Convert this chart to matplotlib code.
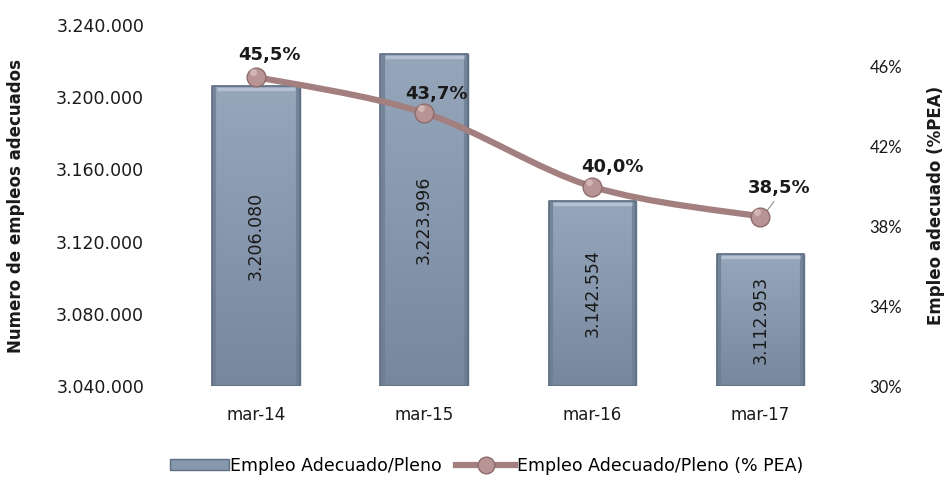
import numpy as np
import matplotlib
matplotlib.use("Agg")
import matplotlib.pyplot as plt
from matplotlib.path import Path
from matplotlib.patches import PathPatch, Patch
from matplotlib.lines import Line2D
from matplotlib.colors import LinearSegmentedColormap
from matplotlib.ticker import FuncFormatter

# Data
categories = ["mar-14", "mar-15", "mar-16", "mar-17"]
empleo_adecuado = [3206080, 3223996, 3142554, 3112953]
empleo_pct = [45.5, 43.7, 40.0, 38.5]
bar_labels = ["3.206.080", "3.223.996", "3.142.554", "3.112.953"]
pct_labels = ["45,5%", "43,7%", "40,0%", "38,5%"]
left_ticks = [3040000, 3080000, 3120000, 3160000, 3200000, 3240000]
right_ticks = [30, 34, 38, 42, 46]

def thousands(v, _=None):
    return f"{int(v):,}".replace(",", ".")

fig = plt.figure(figsize=(9.5, 4.82), dpi=100)
ax = fig.add_axes([0.181, 0.199, 0.708, 0.749])
ax2 = ax.twinx()

x = np.arange(len(categories))
bars = ax.bar(x, empleo_adecuado, width=0.52, color="#8797ad",
              edgecolor="#5f6e82", linewidth=1.0, zorder=2)

# vertical gradient fill for each bar, clipped to the bar shape
grad = LinearSegmentedColormap.from_list("barg", ["#77889e", "#8797ad", "#96a6bb"])
gimg = np.linspace(0, 1, 256).reshape(-1, 1)
for b in bars:
    bx, by, bw, bh = b.get_x(), b.get_y(), b.get_width(), b.get_height()
    y0 = left_ticks[0]
    im = ax.imshow(gimg, extent=(bx, bx + bw, y0, by + bh), origin="lower",
                   cmap=grad, aspect="auto", zorder=2.1, interpolation="bicubic")
    im.set_clip_path(b)
    # darker side bands and light bevel along the top
    for sx in (bx + bw * 0.025, bx + bw * 0.975):
        ax.plot([sx, sx], [y0, by + bh], color="#6d7d92", lw=3,
                zorder=2.2, solid_capstyle="butt", alpha=0.8)
    ax.plot([bx + bw * 0.05, bx + bw * 0.95], [by + bh - 1700, by + bh - 1700],
            color="#b4c1d2", lw=2.4, zorder=2.2, solid_capstyle="butt")
    ax.plot([bx, bx + bw, bx + bw, bx, bx], [y0, y0, by + bh, by + bh, y0],
            color="#5f6e82", lw=1.2, zorder=2.3)

for xi, v, lab in zip(x, empleo_adecuado, bar_labels):
    ax.text(xi, (left_ticks[0] + v) / 2, lab, rotation=90, ha="center",
            va="center", fontsize=12.5, color="#1a1a1a", zorder=3,
            family="DejaVu Sans")

ax.set_ylim(left_ticks[0], left_ticks[-1])
ax.set_xlim(-0.5, len(categories) - 0.5)
ax.set_yticks(left_ticks)
ax.yaxis.set_major_formatter(FuncFormatter(thousands))
ax.set_xticks(x)
ax.set_xticklabels(categories)
ax.tick_params(axis="both", length=0, colors="#1a1a1a")
ax.tick_params(axis="y", labelsize=12.5, pad=20)
ax.tick_params(axis="x", labelsize=12, pad=14)
for lab in ax.get_yticklabels() + ax.get_xticklabels():
    lab.set_family("DejaVu Sans")
ax.set_ylabel("Numero de empleos adecuados", fontsize=12, fontweight="bold",
              labelpad=22, color="#1a1a1a")

# smoothed percentage line (Catmull-Rom segments as cubic Bezier)
pts = np.column_stack([x, empleo_pct]).astype(float)
ext = np.vstack([pts[0], pts, pts[-1]])
verts = [tuple(pts[0])]
codes = [Path.MOVETO]
for i in range(1, len(ext) - 2):
    p0, p1, p2, p3 = ext[i - 1], ext[i], ext[i + 1], ext[i + 2]
    c1 = p1 + (p2 - p0) / 6.0
    c2 = p2 - (p3 - p1) / 6.0
    verts += [tuple(c1), tuple(c2), tuple(p2)]
    codes += [Path.CURVE4] * 3
ax2.add_patch(PathPatch(Path(verts, codes), facecolor="none",
                        edgecolor="#a47f7f", lw=4.5, zorder=4,
                        capstyle="round"))
ax2.plot(x, empleo_pct, linestyle="none", marker="o", markersize=13.5,
         markerfacecolor="#b89494", markeredgecolor="#8e6c6c",
         markeredgewidth=1.0, zorder=5)
ax2.plot(x - 0.02, np.array(empleo_pct) + 0.25, linestyle="none", marker="o",
         markersize=5, markerfacecolor="#dcc4c4", markeredgecolor="none",
         alpha=0.7, zorder=6)

label_offsets = [(0.08, 1.1), (0.07, 0.95), (0.12, 1.0), (0.11, 1.45)]
for xi, v, lab, (dx, dy) in zip(x, empleo_pct, pct_labels, label_offsets):
    ax2.text(xi + dx, v + dy, lab, ha="center", va="center", fontsize=13,
             fontweight="bold", color="#1a1a1a", zorder=7)
# leader line from the last marker to its label
ax2.plot([x[-1] + 0.04, x[-1] + 0.08], [empleo_pct[-1] + 0.3, empleo_pct[-1] + 0.75],
         color="#9a9a9a", lw=0.9, zorder=4.5)

ax2.set_ylim(30, 48.1)
ax2.set_yticks(right_ticks)
ax2.set_yticklabels([f"{t}%" for t in right_ticks])
ax2.tick_params(axis="y", length=0, labelsize=12, pad=18, colors="#1a1a1a")
for lab in ax2.get_yticklabels():
    lab.set_family("Lato")
ax2.set_ylabel("Empleo adecuado (%PEA)", fontsize=12, fontweight="bold",
               labelpad=18, color="#1a1a1a")

for a in (ax, ax2):
    for s in a.spines.values():
        s.set_visible(False)

handles = [Patch(facecolor="#8797ad", edgecolor="#5f6e82"),
           Line2D([0], [0], color="#a47f7f", lw=4.5, marker="o",
                  markersize=12, markerfacecolor="#b89494",
                  markeredgecolor="#8e6c6c")]
fig.legend(handles, ["Empleo Adecuado/Pleno", "Empleo Adecuado/Pleno (% PEA)"],
           loc="center", bbox_to_anchor=(0.512, 0.033), ncol=2, frameon=False,
           fontsize=12.5, handlelength=3.4, handleheight=0.6, handletextpad=0.1,
           columnspacing=0.8)

fig.savefig("out.png", dpi=100)
